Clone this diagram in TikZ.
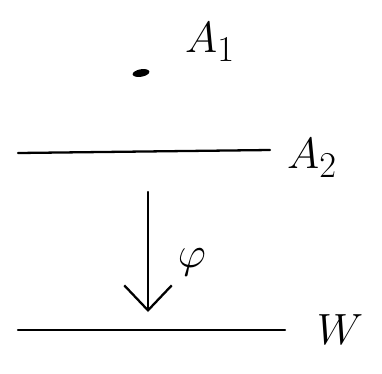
\documentclass[tikz,border=0pt]{standalone}
\usepackage{xcolor}
\usepackage{amssymb}
\usepackage{tikz}
\usetikzlibrary{arrows.meta,shapes.geometric}

\begin{document}
\begin{tikzpicture}[x=0.02cm,y=-0.02cm,
  lbl/.style={inner sep=0pt, font=\fontsize{32}{36}\selectfont},
  stroke/.style={line width=1.3pt, line cap=round}]
\useasboundingbox (0,0) rectangle (382,373);
% point and first layer
\node[ellipse, fill=black, inner sep=0pt, minimum width=0.34cm, minimum height=0.15cm, rotate=10] (pt) at (141,73) {};
\node[lbl] (a1) at (210,42) {$A_1$};
% second layer
\coordinate (l2a) at (18,153);
\coordinate (l2b) at (270,150);
\draw[stroke] (l2a) -- (l2b);
\node[lbl] (a2) at (312,158) {$A_2$};
% map
\coordinate (top) at (148,192);
\coordinate (bot) at (148,312);
\draw[stroke, -{Straight Barb[length=0.5cm, width=0.95cm, line width=1.3pt]}] (top) -- (bot);
\node[lbl] (phi) at (192,262) {$\varphi$};
% target
\coordinate (l3a) at (18,330);
\coordinate (l3b) at (285,330);
\draw[stroke] (l3a) -- (l3b);
\node[lbl] (w) at (340,330) {$W$};
\end{tikzpicture}
\end{document}
